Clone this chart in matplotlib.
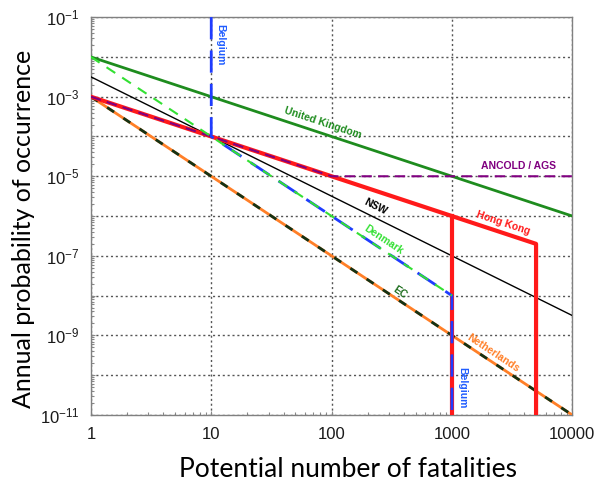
import numpy as np
import matplotlib
matplotlib.use("Agg")
import matplotlib.pyplot as plt
from matplotlib.ticker import LogLocator, FuncFormatter, NullFormatter

# F-N criteria lines (N = fatalities, F = annual probability)
uk_n = [1, 10000]
uk_f = [1e-2, 1e-6]

nsw_n = [1, 10000]
nsw_f = [3.16e-3, 3.16e-9]

hk_n = [1, 5000, 5000]
hk_f = [1e-3, 2e-7, 1e-11]
hk_cut_n = [1000, 1000]
hk_cut_f = [1e-6, 1e-11]

ancold_n = [1, 100, 10000]
ancold_f = [1e-3, 1e-5, 1e-5]

denmark_n = [1, 1000]
denmark_f = [1e-2, 1e-8]

belgium_n = [10, 10, 1000, 1000]
belgium_f = [1e-1, 1e-4, 1e-8, 1e-11]

nl_n = [1, 10000]
nl_f = [1e-3, 1e-11]
ec_n = [1, 10000]
ec_f = [1e-3, 1e-11]

fig = plt.figure(figsize=(5.98, 4.84), dpi=100)
ax = fig.add_axes([0.152, 0.1426, 0.805, 0.822])
ax.set_xscale('log')
ax.set_yscale('log')
ax.set_xlim(1, 10000)
ax.set_ylim(1e-11, 1e-1)

ax.plot(nl_n, nl_f, color='#ff7f27', lw=2, zorder=3)
ax.plot(ec_n, ec_f, color='#143214', lw=2, ls=(0, (3, 4)), zorder=4)
ax.plot(uk_n, uk_f, color='#1e8c1e', lw=2, zorder=3)
ax.plot(nsw_n, nsw_f, color='black', lw=1, zorder=3)
ax.plot(hk_n, hk_f, color='#ff1a1a', lw=3, zorder=4)
ax.plot(hk_cut_n, hk_cut_f, color='#ff1a1a', lw=3, zorder=4)
ax.plot(ancold_n, ancold_f, color='#800080', lw=1.5, ls=(0, (5, 3)), zorder=4.5)
ax.plot(belgium_n, belgium_f, color='#1f3cff', lw=2, ls=(0, (8, 4)), zorder=5)
ax.plot(denmark_n, denmark_f, color='#33e033', lw=1.5, ls=(0, (5, 4)), zorder=6)

# line labels
lab = dict(fontsize=7.5, fontweight='bold', family='Liberation Sans',
           ha='center', va='center', zorder=7)
ax.text(11.8, 2e-2, 'Belgium', color='#1f5cff', rotation=270, **lab)
ax.text(1216, 4.8e-11, 'Belgium', color='#1f5cff', rotation=270, **lab)
ax.text(85, 10**-3.66, 'United Kingdom', color='#1e8c1e', rotation=-18.3, **lab)
ax.text(3556, 10**-4.74, 'ANCOLD / AGS', color='#800080', rotation=0, **lab)
ax.text(230, 10**-5.77, 'NSW', color='black', rotation=-26.5, **lab)
ax.text(2669, 10**-6.18, 'Hong Kong', color='#ff1a1a', rotation=-18.3, **lab)
ax.text(268, 10**-6.6, 'Denmark', color='#33e033', rotation=-33.5, **lab)
ax.text(371, 10**-7.91, 'EC', color='#1e6e1e', rotation=-33.5, **lab)
ax.text(2203, 10**-9.44, 'Netherlands', color='#ff7f27', rotation=-33.5, **lab)

# ticks and grid
ax.xaxis.set_major_locator(LogLocator(base=10, numticks=10))
ax.yaxis.set_major_locator(LogLocator(base=10, numticks=20))
ax.xaxis.set_minor_locator(LogLocator(base=10, subs=np.arange(2, 10), numticks=10))
ax.yaxis.set_minor_locator(LogLocator(base=10, subs=np.arange(2, 10), numticks=20))
ax.xaxis.set_minor_formatter(NullFormatter())
ax.yaxis.set_minor_formatter(NullFormatter())
ax.xaxis.set_major_formatter(FuncFormatter(lambda v, p: '%d' % round(v)))


def ylab(v, p):
    e = int(round(np.log10(v)))
    return r'$\mathregular{10^{%d}}$' % e if e % 2 else ''


ax.yaxis.set_major_formatter(FuncFormatter(ylab))
ax.tick_params(which='both', direction='in', color='#888888', length=3, width=0.8)
ax.tick_params(which='minor', length=2)
ax.tick_params(axis='y', pad=8, labelsize=12)
ax.tick_params(axis='x', pad=9, labelsize=12)
for t in ax.get_xticklabels() + ax.get_yticklabels():
    t.set_family('Liberation Sans')
    t.set_color('#1a1a1a')
ax.grid(True, which='major', ls=(0, (1.5, 2)), color='#555555', lw=1)
for s in ax.spines.values():
    s.set_color('#808080')
    s.set_linewidth(1)

fig.text(0.582, 0.03, 'Potential number of fatalities', ha='center', va='center',
         fontsize=19, family='Lato', color='black')
fig.text(0.04, 0.528, 'Annual probability of occurrence', ha='center', va='center',
         rotation=90, fontsize=18, family='Lato', color='black')

fig.savefig('out.png', dpi=100)
